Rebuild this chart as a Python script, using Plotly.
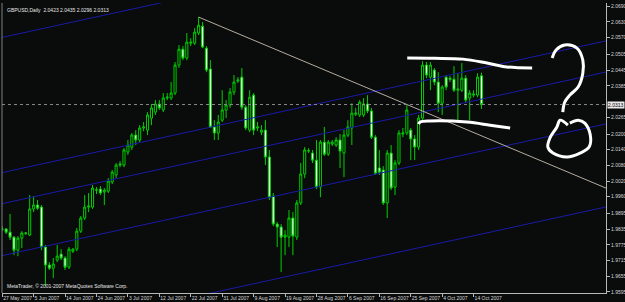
import plotly.graph_objects as go

# ---------------- data (GBPUSD daily) ----------------
opens = [1.9836,1.9836,1.9824,1.9805,1.9755,1.9801,1.9821,1.9813,1.9913,1.9928,
         1.9920,1.9767,1.9698,1.9686,1.9717,1.9740,1.9725,1.9690,1.9751,1.9759,
         1.9828,1.9878,1.9920,1.9920,1.9985,1.9989,1.9978,1.9981,2.0016,2.0043,
         2.0081,2.0081,2.0131,2.0150,2.0196,2.0177,2.0223,2.0215,2.0261,2.0284,
         2.0315,2.0292,2.0338,2.0338,2.0357,2.0464,2.0525,2.0491,2.0548,2.0548,
         2.0587,2.0613,2.0529,2.0449,2.0227,2.0204,2.0253,2.0292,2.0311,2.0361,
         2.0403,2.0418,2.0303,2.0215,2.0349,2.0223,2.0207,2.0215,2.0112,1.9962,
         1.9855,1.9844,1.9805,1.9805,1.9878,1.9805,1.9936,2.0047,2.0135,2.0127,
         2.0100,1.9997,2.0169,2.0123,2.0162,2.0158,2.0177,2.0127,2.0196,2.0223,
         2.0276,2.0273,2.0273,2.0315,2.0288,2.0188,2.0070,2.0062,1.9936,2.0127,
         1.9997,2.0089,2.0200,2.0204,2.0215,2.0181,2.0150,2.0261,2.0464,2.0418,
         2.0445,2.0399,2.0318,2.0418,2.0414,2.0410,2.0368,2.0368,2.0414,2.0338,
         2.0349,2.0349,2.0423]
highs = [1.9847,1.9840,1.9894,1.9809,1.9809,1.9828,1.9824,1.9966,1.9962,1.9947,
         1.9928,1.9775,1.9709,1.9725,1.9775,1.9759,1.9732,1.9767,1.9763,1.9840,
         1.9886,1.9966,1.9974,2.0005,1.9997,2.0001,1.9993,2.0031,2.0062,2.0089,
         2.0096,2.0146,2.0177,2.0204,2.0215,2.0234,2.0246,2.0284,2.0315,2.0330,
         2.0330,2.0357,2.0357,2.0399,2.0476,2.0541,2.0537,2.0587,2.0567,2.0606,
         2.0648,2.0629,2.0537,2.0483,2.0253,2.0273,2.0368,2.0330,2.0376,2.0426,
         2.0418,2.0453,2.0311,2.0368,2.0357,2.0246,2.0234,2.0253,2.0139,1.9974,
         1.9863,1.9855,1.9832,1.9909,1.9901,1.9947,2.0089,2.0150,2.0146,2.0139,
         2.0177,2.0177,2.0227,2.0177,2.0177,2.0188,2.0200,2.0215,2.0253,2.0318,
         2.0300,2.0330,2.0338,2.0349,2.0300,2.0196,2.0139,2.0077,2.0139,2.0158,
         2.0100,2.0215,2.0223,2.0311,2.0223,2.0196,2.0273,2.0479,2.0476,2.0476,
         2.0453,2.0437,2.0387,2.0426,2.0422,2.0460,2.0433,2.0472,2.0426,2.0368,
         2.0368,2.0433,2.0435]
lows = [1.9828,1.9817,1.9794,1.9736,1.9732,1.9763,1.9813,1.9809,1.9901,1.9909,
        1.9755,1.9618,1.9679,1.9648,1.9709,1.9717,1.9679,1.9683,1.9744,1.9751,
        1.9821,1.9870,1.9901,1.9913,1.9970,1.9966,1.9928,1.9974,2.0008,2.0031,
        2.0073,2.0073,2.0120,2.0139,2.0158,2.0169,2.0211,2.0196,2.0234,2.0273,
        2.0292,2.0284,2.0330,2.0330,2.0349,2.0453,2.0483,2.0483,2.0537,2.0541,
        2.0579,2.0529,2.0437,2.0223,2.0177,2.0177,2.0246,2.0261,2.0300,2.0349,
        2.0395,2.0292,2.0215,2.0207,2.0196,2.0211,2.0196,2.0081,1.9947,1.9847,
        1.9767,1.9671,1.9736,1.9767,1.9736,1.9794,1.9928,2.0031,2.0127,2.0089,
        1.9989,1.9958,2.0116,2.0116,2.0154,2.0150,2.0070,2.0035,2.0188,2.0158,
        2.0269,2.0265,2.0265,2.0280,2.0181,2.0043,2.0043,1.9928,1.9878,1.9985,
        1.9966,2.0081,2.0188,2.0196,2.0100,2.0100,2.0139,2.0253,2.0414,2.0368,
        2.0387,2.0284,2.0273,2.0368,2.0399,2.0361,2.0246,2.0361,2.0322,2.0253,
        2.0341,2.0341,2.0296]
closes = [1.9835,1.9824,1.9805,1.9755,1.9801,1.9821,1.9820,1.9913,1.9928,1.9916,
          1.9767,1.9698,1.9686,1.9702,1.9732,1.9725,1.9690,1.9759,1.9759,1.9828,
          1.9878,1.9920,1.9924,1.9993,1.9986,1.9974,1.9985,2.0020,2.0054,2.0081,
          2.0085,2.0139,2.0158,2.0196,2.0177,2.0223,2.0227,2.0273,2.0300,2.0315,
          2.0300,2.0338,2.0341,2.0357,2.0464,2.0525,2.0491,2.0552,2.0552,2.0590,
          2.0617,2.0533,2.0445,2.0227,2.0204,2.0246,2.0292,2.0311,2.0361,2.0399,
          2.0407,2.0303,2.0223,2.0341,2.0215,2.0227,2.0215,2.0112,1.9958,1.9855,
          1.9844,1.9805,1.9813,1.9878,1.9809,1.9936,2.0047,2.0139,2.0136,2.0100,
          1.9997,2.0169,2.0123,2.0169,2.0169,2.0177,2.0135,2.0196,2.0227,2.0280,
          2.0280,2.0322,2.0315,2.0288,2.0188,2.0050,2.0054,1.9936,2.0127,1.9993,
          2.0089,2.0204,2.0204,2.0292,2.0181,2.0150,2.0261,2.0464,2.0426,2.0464,
          2.0399,2.0318,2.0380,2.0380,2.0410,2.0368,2.0372,2.0414,2.0330,2.0357,
          2.0353,2.0418,2.0313]

date_labels = ["27 May 2007", "5 Jun 2007", "14 Jun 2007", "24 Jun 2007", "3 Jul 2007",
               "12 Jul 2007", "22 Jul 2007", "31 Jul 2007", "9 Aug 2007", "19 Aug 2007",
               "28 Aug 2007", "6 Sep 2007", "16 Sep 2007", "25 Sep 2007", "4 Oct 2007",
               "14 Oct 2007"]
label_step = 8  # bars between date labels

price_ticks = [2.0690, 2.0630, 2.0570, 2.0505, 2.0445, 2.0385, 2.0265, 2.0200, 2.0140,
               2.0080, 2.0020, 1.9960, 1.9895, 1.9835, 1.9775, 1.9715, 1.9655, 1.9595]

# drawn objects (bar index, price)
channel_bars = [-1, 155]
channel_lines = [[2.0567, 2.1078], [2.0049, 2.0561], [1.9930, 2.0442],
                 [1.9731, 2.0243], [1.9413, 1.9925]]
trend_bars = [50, 154]
trend_prices = [2.0648, 1.9991]

# hand-drawn strokes (bar index, price)
stroke_top_x = [103.1, 110.0, 117.3, 123.4, 128.5, 134.9]
stroke_top_y = [2.0491, 2.0490, 2.0487, 2.0472, 2.0457, 2.0453]
stroke_bot_x = [106.0, 106.4, 108.9, 118.3, 124.2, 129.3]
stroke_bot_y = [2.0238, 2.0246, 2.0250, 2.0246, 2.0234, 2.0223]
qmark_x = [140.0, 141.0, 143.2, 146.3, 147.8, 147.8, 146.6, 144.5, 143.2, 142.7]
qmark_y = [2.0491, 2.0522, 2.0541, 2.0529, 2.0483, 2.0433, 2.0380, 2.0349, 2.0322, 2.0284]
circle_x = [144.0, 142.0, 141.2, 139.4, 138.9, 140.2, 143.8, 147.1, 149.4, 149.7, 148.3, 146.6, 144.5]
circle_y = [2.0234, 2.0253, 2.0227, 2.0184, 2.0150, 2.0127, 2.0112, 2.0127, 2.0150, 2.0196,
            2.0242, 2.0253, 2.0242]

title_text = "GBPUSD,Daily  2.0423 2.0435 2.0296 2.0313"
footer_text = "MetaTrader, © 2001-2007 MetaQuotes Software Corp."

# ---------------- figure ----------------
bars = list(range(len(opens)))
BG = "#0a0b0b"
AX = "#b8b8b8"
FONT = "Liberation Sans"
GREEN = "#00d000"
BLUE = "#1a1aa8"

fig = go.Figure()

for ln in channel_lines:
    fig.add_trace(go.Scatter(x=channel_bars, y=ln, mode="lines",
                             line=dict(color=BLUE, width=1), hoverinfo="skip"))

fig.add_trace(go.Scatter(x=trend_bars, y=trend_prices, mode="lines",
                         line=dict(color="#b4aca0", width=1), hoverinfo="skip"))

fig.add_trace(go.Candlestick(
    x=bars, open=opens, high=highs, low=lows, close=closes,
    increasing=dict(line=dict(color=GREEN, width=1), fillcolor="#000000"),
    decreasing=dict(line=dict(color=GREEN, width=1), fillcolor="#ffffff"),
    whiskerwidth=0, hoverinfo="skip"))

for sx, sy in [(stroke_top_x, stroke_top_y), (stroke_bot_x, stroke_bot_y),
               (qmark_x, qmark_y), (circle_x, circle_y)]:
    fig.add_trace(go.Scatter(x=sx, y=sy, mode="lines",
                             line=dict(color="#ffffff", width=3, shape="spline"),
                             hoverinfo="skip"))

tickvals_x = [i * label_step for i in range(len(date_labels))]

fig.update_layout(
    width=625, height=302,
    margin=dict(l=2, r=19, t=3, b=9),
    paper_bgcolor=BG, plot_bgcolor=BG,
    showlegend=False,
    font=dict(family=FONT, size=5, color="#d8d8d8"),
    boxgap=0.25,
    xaxis=dict(range=[-0.05, 153.7], showgrid=False, zeroline=False,
               tickvals=tickvals_x, ticktext=date_labels, tickangle=0,
               ticks="outside", ticklen=3, tickcolor=AX, tickwidth=1,
               ticklabelposition="outside right", automargin=False,
               showline=True, linecolor=AX, linewidth=1,
               tickfont=dict(family=FONT, size=5, color="#d8d8d8"),
               rangeslider=dict(visible=False), fixedrange=True),
    yaxis=dict(range=[1.9591, 2.0702], side="right", showgrid=False, zeroline=False,
               tickvals=price_ticks, ticktext=[f"{v:.4f}" for v in price_ticks],
               ticks="outside", ticklen=3, tickcolor=AX, tickwidth=1, automargin=False,
               showline=True, linecolor=AX, linewidth=1,
               tickfont=dict(family=FONT, size=5, color="#d8d8d8"), fixedrange=True),
)

last_close = closes[-1]
fig.add_shape(type="line", xref="paper", x0=0, x1=1, yref="y", y0=last_close, y1=last_close,
              line=dict(color="#8a8a8a", width=1, dash="dot"))
fig.add_shape(type="line", xref="paper", x0=0, x1=0, yref="paper", y0=0, y1=1,
              line=dict(color="#808080", width=1))

fig.add_annotation(xref="paper", yref="y", x=1, y=last_close, xanchor="left", yanchor="middle",
                   text=f"{last_close:.4f}", showarrow=False, xshift=1,
                   bgcolor="#e8e8e8", font=dict(family=FONT, size=5, color="#000000"),
                   borderpad=0)
fig.add_annotation(xref="paper", yref="paper", x=0, y=1, xanchor="left", yanchor="top",
                   text=title_text, showarrow=False, xshift=3, yshift=-2,
                   font=dict(family=FONT, size=5, color="#e8e8e8"))
fig.add_annotation(xref="paper", yref="paper", x=0, y=0, xanchor="left", yanchor="bottom",
                   text=footer_text, showarrow=False, xshift=3, yshift=2,
                   font=dict(family=FONT, size=5, color="#e8e8e8"))

fig.write_html("out.html", config={"displayModeBar": False})
